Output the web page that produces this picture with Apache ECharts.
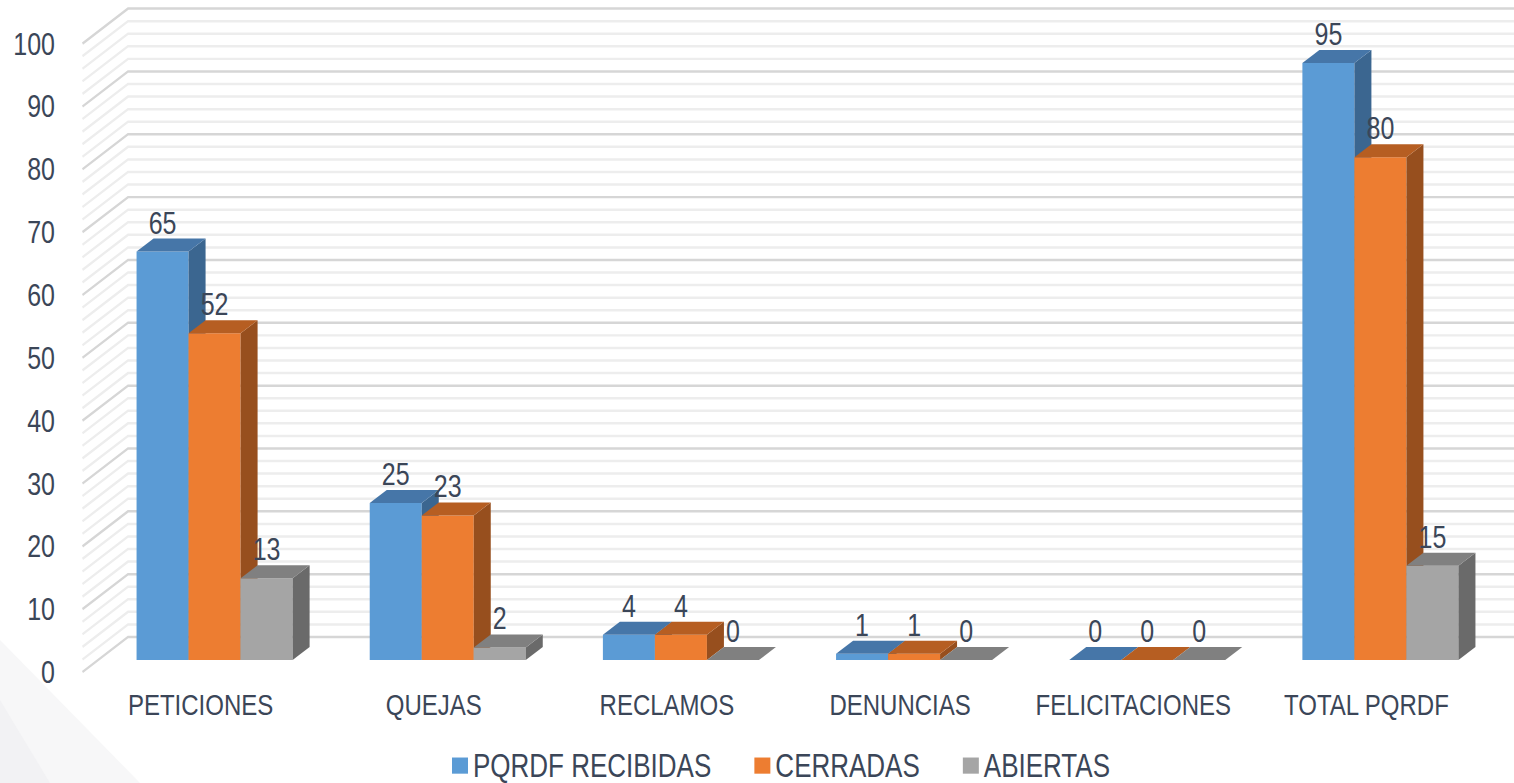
<!DOCTYPE html>
<html>
<head>
<meta charset="utf-8">
<script src="https://cdn.jsdelivr.net/npm/echarts@6/dist/echarts.min.js"></script>
<style>
  html, body { margin: 0; padding: 0; background: #fff; overflow: hidden; }
  #wrap { width: 1514px; height: 783px; overflow: hidden; }
  /* el original esta estirado en vertical: se dibuja mas bajo y se escala */
  #chart { width: 1514px; height: 630px; transform: scaleY(1.242857); transform-origin: 0 0; }
</style>
</head>
<body>
<div id="wrap"><div id="chart"></div></div>
<script>
// datos
const categorias = ['PETICIONES', 'QUEJAS', 'RECLAMOS', 'DENUNCIAS', 'FELICITACIONES', 'TOTAL PQRDF'];
const recibidas = [65, 25, 4, 1, 0, 95];
const cerradas = [52, 23, 4, 1, 0, 80];
const abiertas = [13, 2, 0, 0, 0, 15];

const S = 783 / 630; // estiramiento vertical
const FONT = "'Liberation Sans', Arial, sans-serif";
const TXT = '#3B4658';

// colores: frente, tapa, lado
const colores = [
  ['#5B9BD5', '#4676A8', '#3B6690'],
  ['#ED7D31', '#B65E22', '#974F1E'],
  ['#A5A5A5', '#808080', '#6A6A6A']
];

// profundidad de la barra y de las paredes (px)
const DX = 17, DY = 13 / S;
const WALL_BACK = [30, -23 / S];
const WALL_FRONT = [-15.5, 12 / S];
const BAR_RATIO = 52 / 233.1;

const chart = echarts.init(document.getElementById('chart'), null, { renderer: 'svg' });

function renderBar(idx) {
  return function (params, api) {
    const cat = api.value(0);
    const val = api.value(1);
    const base = api.coord([cat, 0]);
    const top = api.coord([cat, val]);
    const band = api.size([1, 0])[0];
    const bw = band * BAR_RATIO;
    const x0 = base[0] - 1.5 * bw + idx * bw;
    const x1 = x0 + bw;
    const ty = top[1], by = base[1];
    const c = colores[idx];
    return {
      type: 'group',
      children: [
        {
          type: 'rect',
          shape: { x: x0, y: ty, width: bw, height: by - ty },
          style: { fill: c[0] }
        },
        {
          type: 'polygon',
          shape: { points: [[x1, ty], [x1 + DX, ty - DY], [x1 + DX, by - DY], [x1, by]] },
          style: { fill: c[2] }
        },
        {
          type: 'polygon',
          shape: { points: [[x0, ty], [x0 + DX, ty - DY], [x1 + DX, ty - DY], [x1, ty]] },
          style: { fill: c[1] }
        },
        {
          type: 'text',
          x: x0 + bw / 2,
          y: ty - 29 / S,
          style: {
            text: String(val),
            fill: TXT,
            font: '25px ' + FONT,
            align: 'center',
            verticalAlign: 'middle'
          }
        }
      ]
    };
  };
}

// paredes con lineas de cuadricula (cada 2 unidades, principales cada 10)
function renderWall(params, api) {
  const cs = params.coordSys;
  const gl = cs.x;
  const children = [];
  for (let v = 0; v <= 100; v += 2) {
    const y = api.coord([0, v])[1];
    const major = v % 10 === 0;
    children.push({
      type: 'polyline',
      shape: {
        points: [
          [gl + WALL_FRONT[0], y + WALL_FRONT[1]],
          [gl + WALL_BACK[0], y + WALL_BACK[1]],
          [cs.x + cs.width + 40, y + WALL_BACK[1]]
        ]
      },
      style: { stroke: major ? '#D6D6D6' : '#EDEDED', lineWidth: 2, fill: null }
    });
  }
  return { type: 'group', children: children };
}

function serie(nombre, valores, idx) {
  return {
    name: nombre,
    type: 'custom',
    renderItem: renderBar(idx),
    itemStyle: { color: colores[idx][0] },
    encode: { x: 0, y: 1 },
    data: valores.map((v, i) => [i, v]),
    z: 3
  };
}

chart.setOption({
  backgroundColor: '#fff',
  animation: false,
  graphic: [
    { type: 'polygon', z: -10, shape: { points: [[0, 640 / S], [140, 783 / S], [0, 783 / S]] }, style: { fill: '#F7F7F8' } },
    { type: 'polygon', z: -10, shape: { points: [[0, 700 / S], [50, 783 / S], [0, 783 / S]] }, style: { fill: '#F2F2F4' } }
  ],
  grid: { left: 98, right: 17, top: 31.6 / S, bottom: 123 / S },
  legend: {
    data: ['PQRDF RECIBIDAS', 'CERRADAS', 'ABIERTAS'],
    left: 447,
    top: 598,
    icon: 'rect',
    itemWidth: 16,
    itemHeight: 13,
    itemGap: 43,
    textStyle: { color: TXT, fontSize: 26, fontFamily: FONT }
  },
  xAxis: {
    type: 'category',
    data: categorias,
    axisLine: { show: false },
    axisTick: { show: false },
    axisLabel: {
      color: TXT,
      fontSize: 24,
      fontFamily: FONT,
      margin: 23.6,
      padding: [0, 28, 0, 0],
      interval: 0
    }
  },
  yAxis: {
    type: 'value',
    min: 0,
    max: 100,
    interval: 10,
    splitLine: { show: false },
    axisLine: { show: false },
    axisTick: { show: false },
    axisLabel: {
      color: TXT,
      fontSize: 25,
      fontFamily: FONT,
      margin: 43,
      verticalAlign: 'top',
      lineHeight: 24 / S
    }
  },
  series: [
    {
      name: 'pared',
      type: 'custom',
      renderItem: renderWall,
      data: [[0, 0]],
      encode: { x: 0, y: 1 },
      silent: true,
      z: 1
    },
    serie('PQRDF RECIBIDAS', recibidas, 0),
    serie('CERRADAS', cerradas, 1),
    serie('ABIERTAS', abiertas, 2)
  ]
});
</script>
</body>
</html>
